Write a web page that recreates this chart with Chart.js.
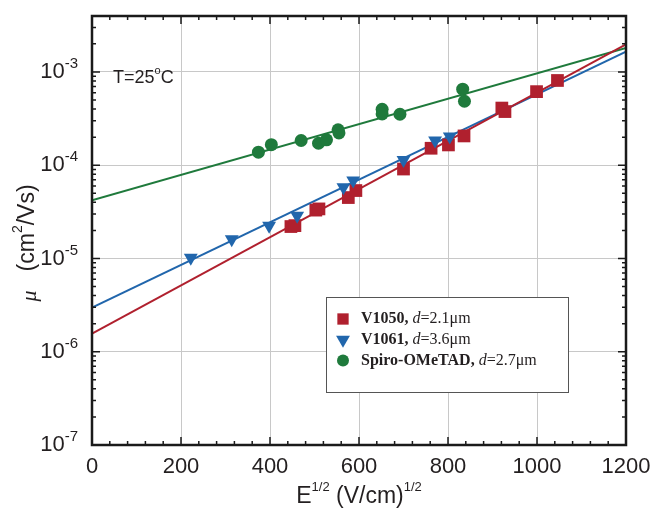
<!DOCTYPE html>
<html>
<head>
<meta charset="utf-8">
<script src="https://cdn.jsdelivr.net/npm/chart.js@4.4.1/dist/chart.umd.min.js"></script>
<style>
  html, body { margin: 0; padding: 0; background: #fff; }
  #wrap { width: 652px; height: 511px; }
</style>
</head>
<body>
<div id="wrap"><canvas id="mobilityChart"></canvas></div>
<script>
// E^1/2 in (V/cm)^1/2, mobility in cm2/Vs
const v1050X = [447, 456, 503, 510, 576, 593, 700, 762, 801, 836, 921, 928, 999, 1046];
const v1050Y = [2.2e-5, 2.25e-5, 3.3e-5, 3.4e-5, 4.5e-5, 5.35e-5, 9.1e-5, 1.52e-4, 1.65e-4, 2.06e-4, 4.1e-4, 3.76e-4, 6.15e-4, 8.1e-4];

const v1061X = [222, 314, 398, 461, 565, 587, 700, 771, 804];
const v1061Y = [1.02e-5, 1.61e-5, 2.24e-5, 2.88e-5, 5.8e-5, 6.84e-5, 1.14e-4, 1.84e-4, 2.03e-4];

const spiroX = [374, 403, 470, 509, 527, 553, 555, 652, 652, 692, 833, 837];
const spiroY = [1.38e-4, 1.66e-4, 1.84e-4, 1.72e-4, 1.87e-4, 2.4e-4, 2.22e-4, 3.98e-4, 3.55e-4, 3.52e-4, 6.53e-4, 4.85e-4];

// fitted lines, end points at x = 0 and 1200
const fitX = [0, 1200];
const v1050Fit = [1.56e-6, 1.98e-3];
const v1061Fit = [2.98e-6, 1.65e-3];
const spiroFit = [4.2e-5, 1.81e-3];

const seriesNames = ['V1050', 'V1061', 'Spiro-OMeTAD'];
const thickness = ['2.1', '3.6', '2.7'];
const colors = ['#b0202e', '#2166ac', '#1f7a3c'];

const xTicks = [0, 200, 400, 600, 800, 1000, 1200];
const yExps = [-7, -6, -5, -4, -3];

const pts = (xs, ys) => xs.map((x, i) => ({ x: x, y: ys[i] }));
const isDecade = v => Math.abs(Math.log10(v) - Math.round(Math.log10(v))) < 1e-6;

const sans = "'Liberation Sans', Arial, sans-serif";
const serif = "'Liberation Serif', 'Times New Roman', serif";

// draw a row of text pieces with different fonts / offsets
function drawParts(ctx, parts, x, y, align) {
  let total = 0;
  parts.forEach(p => { ctx.font = p.font; total += ctx.measureText(p.text).width; });
  let cx = align === 'center' ? x - total / 2 : (align === 'right' ? x - total : x);
  parts.forEach(p => {
    ctx.font = p.font;
    ctx.fillText(p.text, cx, y + (p.dy || 0));
    cx += ctx.measureText(p.text).width;
  });
}

function drawMarker(ctx, style, x, y, r) {
  ctx.beginPath();
  if (style === 'rect') {
    const s = r * Math.SQRT1_2;
    ctx.rect(x - s, y - s, 2 * s, 2 * s);
  } else if (style === 'triangle') {
    ctx.moveTo(x, y + r);
    ctx.lineTo(x - r * 0.866, y - r / 2);
    ctx.lineTo(x + r * 0.866, y - r / 2);
    ctx.closePath();
  } else {
    ctx.arc(x, y, r, 0, Math.PI * 2);
  }
  ctx.fill();
}

const decorations = {
  id: 'decorations',
  afterDatasetsDraw(chart) {
    const ctx = chart.ctx;
    const xs = chart.scales.x, ys = chart.scales.y;
    const a = chart.chartArea;
    ctx.save();
    ctx.strokeStyle = '#1a1a1a';
    ctx.fillStyle = '#231f20';

    // inner tick marks on all four sides
    ctx.lineWidth = 1.5;
    ctx.beginPath();
    for (let v = 0; v <= 1200; v += 40) {
      const px = xs.getPixelForValue(v);
      const len = v % 200 === 0 ? 8 : 4;
      ctx.moveTo(px, a.bottom); ctx.lineTo(px, a.bottom - len);
      ctx.moveTo(px, a.top); ctx.lineTo(px, a.top + len);
    }
    for (let e = -7; e <= -3; e++) {
      for (let m = 1; m <= 9; m++) {
        const v = m * Math.pow(10, e);
        if (v > ys.max * 1.0001) continue;
        const py = ys.getPixelForValue(v);
        const len = m === 1 ? 8 : 4;
        ctx.moveTo(a.left, py); ctx.lineTo(a.left + len, py);
        ctx.moveTo(a.right, py); ctx.lineTo(a.right - len, py);
      }
    }
    ctx.stroke();

    // frame
    ctx.lineWidth = 2.5;
    ctx.strokeRect(a.left, a.top, a.right - a.left, a.bottom - a.top);

    // x tick labels
    ctx.textBaseline = 'middle';
    ctx.textAlign = 'left';
    xTicks.forEach(v => {
      drawParts(ctx, [{ text: String(v), font: '22px ' + sans }], xs.getPixelForValue(v), a.bottom + 22, 'center');
    });

    // y tick labels 10^n
    yExps.forEach(e => {
      const py = ys.getPixelForValue(Math.pow(10, e));
      drawParts(ctx, [
        { text: '10', font: '22px ' + sans },
        { text: String(e), font: '15px ' + sans, dy: -8 }
      ], a.left - 14, py, 'right');
    });

    // axis titles
    drawParts(ctx, [
      { text: 'E', font: '23px ' + sans },
      { text: '1/2', font: '13px ' + sans, dy: -10 },
      { text: ' (V/cm)', font: '23px ' + sans },
      { text: '1/2', font: '13px ' + sans, dy: -10 }
    ], (a.left + a.right) / 2, a.bottom + 52, 'center');

    ctx.save();
    ctx.translate(28, 243);
    ctx.rotate(-Math.PI / 2);
    drawParts(ctx, [
      { text: '\u03bc', font: 'italic 22px ' + serif, dy: 2 },
      { text: '   (cm', font: '23px ' + sans },
      { text: '2', font: '14px ' + sans, dy: -10 },
      { text: '/Vs)', font: '23px ' + sans }
    ], 0, 0, 'center');
    ctx.restore();

    // temperature note
    drawParts(ctx, [
      { text: 'T=25', font: '18px ' + sans },
      { text: 'o', font: '11px ' + sans, dy: -7 },
      { text: 'C', font: '18px ' + sans }
    ], a.left + 21, ys.getPixelForValue(1e-3) + 6, 'left');

    // legend box
    const bx = 326, by = 297, bw = 242, bh = 95;
    ctx.fillStyle = '#fff';
    ctx.fillRect(bx, by, bw, bh);
    ctx.strokeStyle = '#555';
    ctx.lineWidth = 1;
    ctx.strokeRect(bx + 0.5, by + 0.5, bw, bh);
    const styles = ['rect', 'triangle', 'circle'];
    const radii = [8, 8, 6];
    seriesNames.forEach((name, i) => {
      const ly = by + 22 + i * 20.7;
      ctx.fillStyle = colors[i];
      drawMarker(ctx, styles[i], bx + 17, ly, radii[i]);
      ctx.fillStyle = '#231f20';
      drawParts(ctx, [
        { text: name + ', ', font: 'bold 16px ' + serif },
        { text: 'd', font: 'italic 16px ' + serif },
        { text: '=' + thickness[i] + '\u03bcm', font: '16px ' + serif }
      ], bx + 35, ly, 'left');
    });

    ctx.restore();
  }
};

const scatterSet = (label, xs, ys, color, style, radius, rot) => ({
  type: 'scatter',
  label: label,
  data: pts(xs, ys),
  backgroundColor: color,
  borderColor: color,
  borderWidth: 0,
  pointStyle: style,
  pointRadius: radius,
  pointRotation: rot || 0,
  order: 1
});

const lineSet = (label, ys, color) => ({
  type: 'line',
  label: label,
  data: pts(fitX, ys),
  borderColor: color,
  borderWidth: 2,
  pointRadius: 0,
  fill: false,
  order: 2
});

new Chart(document.getElementById('mobilityChart'), {
  data: {
    datasets: [
      lineSet('V1050 fit', v1050Fit, colors[0]),
      lineSet('V1061 fit', v1061Fit, colors[1]),
      lineSet('Spiro fit', spiroFit, colors[2]),
      scatterSet(seriesNames[2], spiroX, spiroY, colors[2], 'circle', 6.5),
      scatterSet(seriesNames[1], v1061X, v1061Y, colors[1], 'triangle', 8, 180),
      scatterSet(seriesNames[0], v1050X, v1050Y, colors[0], 'rect', 9)
    ]
  },
  options: {
    responsive: true,
    maintainAspectRatio: false,
    animation: false,
    layout: { padding: { left: 92, right: 26, top: 16, bottom: 66 } },
    scales: {
      x: {
        type: 'linear',
        min: 0,
        max: 1200,
        ticks: { display: false, stepSize: 200 },
        grid: { color: '#c8c8c8', lineWidth: 1, drawTicks: false },
        border: { display: false }
      },
      y: {
        type: 'logarithmic',
        min: 1e-7,
        max: 3.98e-3,
        ticks: { display: false },
        grid: {
          color: c => (c.tick && isDecade(c.tick.value)) ? '#c8c8c8' : 'rgba(0,0,0,0)',
          lineWidth: 1,
          drawTicks: false
        },
        border: { display: false }
      }
    },
    plugins: {
      legend: { display: false },
      tooltip: { enabled: false }
    }
  },
  plugins: [decorations]
});
</script>
</body>
</html>
